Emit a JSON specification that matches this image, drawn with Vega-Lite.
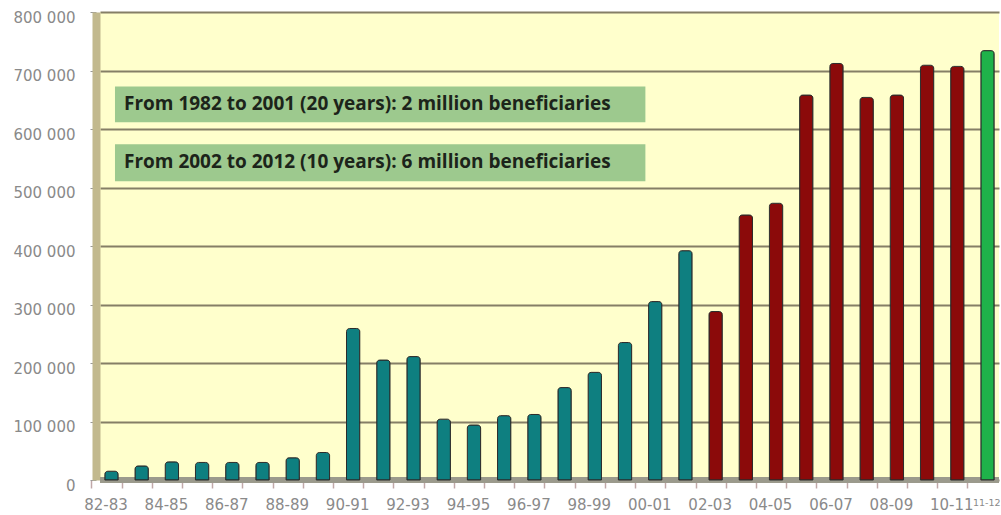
{
  "$schema": "https://vega.github.io/schema/vega-lite/v6.json",
  "width": 899,
  "height": 468,
  "autosize": {"type": "none"},
  "padding": {"left": 100, "top": 12, "right": 2, "bottom": 35},
  "background": "#ffffff",
  "config": {
    "view": {"fill": "#FFFFCC", "stroke": null},
    "axis": {"labelFont": "DejaVu Sans", "labelFontSize": 15, "labelColor": "#8a8a8a"}
  },
  "datasets": {
    "bars": [
      {"year": "82-83", "value": 15000, "period": "1982-2002"},
      {"year": "83-84", "value": 24000, "period": "1982-2002"},
      {"year": "84-85", "value": 31000, "period": "1982-2002"},
      {"year": "85-86", "value": 30000, "period": "1982-2002"},
      {"year": "86-87", "value": 30000, "period": "1982-2002"},
      {"year": "87-88", "value": 30000, "period": "1982-2002"},
      {"year": "88-89", "value": 38000, "period": "1982-2002"},
      {"year": "89-90", "value": 47000, "period": "1982-2002"},
      {"year": "90-91", "value": 259000, "period": "1982-2002"},
      {"year": "91-92", "value": 205000, "period": "1982-2002"},
      {"year": "92-93", "value": 211000, "period": "1982-2002"},
      {"year": "93-94", "value": 104000, "period": "1982-2002"},
      {"year": "94-95", "value": 94000, "period": "1982-2002"},
      {"year": "95-96", "value": 110000, "period": "1982-2002"},
      {"year": "96-97", "value": 112000, "period": "1982-2002"},
      {"year": "97-98", "value": 158000, "period": "1982-2002"},
      {"year": "98-99", "value": 184000, "period": "1982-2002"},
      {"year": "99-00", "value": 235000, "period": "1982-2002"},
      {"year": "00-01", "value": 305000, "period": "1982-2002"},
      {"year": "01-02", "value": 392000, "period": "1982-2002"},
      {"year": "02-03", "value": 288000, "period": "2002-2011"},
      {"year": "03-04", "value": 453000, "period": "2002-2011"},
      {"year": "04-05", "value": 473000, "period": "2002-2011"},
      {"year": "05-06", "value": 658000, "period": "2002-2011"},
      {"year": "06-07", "value": 712000, "period": "2002-2011"},
      {"year": "07-08", "value": 654000, "period": "2002-2011"},
      {"year": "08-09", "value": 658000, "period": "2002-2011"},
      {"year": "09-10", "value": 709000, "period": "2002-2011"},
      {"year": "10-11", "value": 707000, "period": "2002-2011"},
      {"year": "11-12", "value": 734000, "period": "2011-2012"}
    ],
    "notes": [
      {"note": "From 1982 to 2001 (20 years): 2 million beneficiaries", "x0": 0.5, "x1": 18.2, "tx": 0.8, "y0": 611500, "y1": 672600, "ty": 642000},
      {"note": "From 2002 to 2012 (10 years): 6 million beneficiaries", "x0": 0.5, "x1": 18.2, "tx": 0.8, "y0": 510600, "y1": 574000, "ty": 543000}
    ]
  },
  "resolve": {"scale": {"x": "independent"}, "axis": {"x": "independent"}},
  "layer": [
    {
      "data": {"name": "bars"},
      "mark": {"type": "rule", "color": "#9b9a8c", "strokeWidth": 6},
      "encoding": {"y": {"datum": 0, "type": "quantitative", "scale": {"domain": [0, 800000]}}}
    },
    {
      "data": {"name": "bars"},
      "mark": {"type": "bar", "stroke": "#2b2b2b", "strokeWidth": 1, "cornerRadiusTopLeft": 3, "cornerRadiusTopRight": 3},
      "encoding": {
        "x": {
          "field": "year", "type": "nominal", "sort": null,
          "scale": {"paddingInner": 0.56, "paddingOuter": 0.16},
          "axis": {
            "title": null, "domain": false, "grid": false, "labelAngle": 0,
            "bandPosition": 0, "tickOffset": -13.5, "tickSize": 8, "tickColor": "#c0a8a8", "tickWidth": 1.5,
            "labelPadding": 9, "labelBaseline": "top",
            "labelOffset": {"condition": {"test": "datum.value == '11-12'", "value": 26}, "value": 7.5},
            "labelAlign": {"condition": {"test": "datum.value == '11-12'", "value": "right"}, "value": "center"},
            "labelFontSize": {"condition": {"test": "datum.value == '11-12'", "value": 9.5}, "value": 15},
            "labelExpr": "(toNumber(substring(datum.value, 0, 2)) % 2 == 0 || datum.value == '11-12') ? datum.value : ''"
          }
        },
        "y": {
          "field": "value", "type": "quantitative",
          "scale": {"domain": [0, 800000]},
          "axis": {
            "title": null, "values": [0, 100000, 200000, 300000, 400000, 500000, 600000, 700000, 800000],
            "grid": true, "gridColor": "#857f66", "gridWidth": 2,
            "domain": true, "domainColor": "#c2b98e", "domainWidth": 8, "offset": 4,
            "tickSize": 6, "tickColor": "#999999", "labelPadding": 15, "labelOffset": 5,
            "labelExpr": "replace(format(datum.value, ','), ',', ' ')"
          }
        },
        "color": {
          "field": "period", "type": "nominal", "legend": null,
          "scale": {"domain": ["1982-2002", "2002-2011", "2011-2012"], "range": ["#0e7f80", "#8b0a0a", "#1fb24a"]}
        }
      }
    },
    {
      "data": {"name": "notes"},
      "mark": {"type": "rect", "color": "#9dc98e"},
      "encoding": {
        "x": {"field": "x0", "type": "quantitative", "scale": {"domain": [0, 30]}, "axis": null},
        "x2": {"field": "x1"},
        "y": {"field": "y0", "type": "quantitative"},
        "y2": {"field": "y1"}
      }
    },
    {
      "data": {"name": "notes"},
      "mark": {"type": "text", "align": "left", "baseline": "middle", "font": "Open Sans", "fontWeight": "bold", "fontSize": 19, "color": "#1c241a"},
      "encoding": {
        "x": {"field": "tx", "type": "quantitative", "scale": {"domain": [0, 30]}, "axis": null},
        "y": {"field": "ty", "type": "quantitative"},
        "text": {"field": "note"}
      }
    }
  ]
}
